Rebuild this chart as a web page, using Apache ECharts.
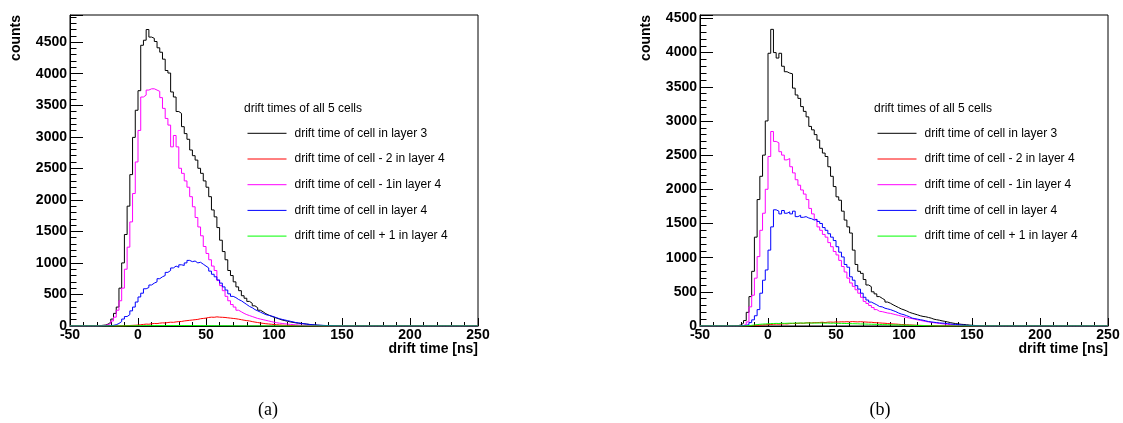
<!DOCTYPE html>
<html>
<head>
<meta charset="utf-8">
<script src="https://cdn.jsdelivr.net/npm/echarts@6/dist/echarts.min.js"></script>
<style>
  html, body { margin: 0; padding: 0; background: #ffffff; }
  #chart { width: 1123px; height: 423px; }
</style>
</head>
<body>
<div id="chart"></div>
<script>
// Drift-time histograms, 2 ns bins on [-50, 250] ns.
// Each list gives the counts per bin, starting at the lower bin edge noted in *_START.
const BIN_WIDTH = 2;
const X_MIN = -50;
const X_MAX = 250;
const X_TICKS = [-50, 0, 50, 100, 150, 200, 250];

const seriesNames = [
  'drift time of cell in layer 3',
  'drift time of cell - 2 in layer 4',
  'drift time of cell - 1in layer 4',
  'drift time of cell in layer 4',
  'drift time of cell + 1 in layer 4'
];
const seriesColors = ['#000000', '#ff0000', '#ff00ff', '#0000ff', '#00ff00'];
const legendHeader = 'drift times of all 5 cells';

// ---- panel (a) ----
const a_layer3_START = -32;
const a_layer3 = [0,5,10,15,30,60,110,200,300,600,1000,1450,1900,2400,2990,3420,
  3730,4450,4530,4700,4580,4560,4510,4410,4340,4230,4050,4010,3710,3630,3400,3370,
  3160,3050,2960,2790,2700,2630,2500,2420,2300,2200,2050,1840,1730,1560,1360,1180,
  1050,880,800,700,620,560,480,440,390,360,320,290,250,225,195,175,155,140,125,110,
  95,85,75,65,58,50,45,40,35,30,25,20,16,12,10,8,6,5,4,3,2,1];

const a_cellM2_START = -12;
const a_cellM2 = [2,5,8,10,12,15,20,25,30,28,35,40,38,45,50,48,55,60,58,65,
  70,72,80,85,90,95,100,105,115,120,125,135,140,138,145,140,138,135,130,125,
  120,115,108,100,92,85,80,70,62,55,48,42,36,32,28,24,20,17,14,12,10,8,6,5,4,3,2];

const a_cellM1_START = -32;
const a_cellM1 = [0,3,5,10,20,40,80,140,250,400,600,900,1250,1650,2100,2600,
  3100,3630,3660,3740,3760,3760,3740,3720,3620,3450,3290,3185,2840,3020,2840,2500,
  2420,2300,2200,2050,1890,1720,1570,1430,1260,1150,1050,950,880,720,640,560,
  470,400,340,300,250,225,200,180,165,150,135,120,110,100,90,80,70,60,52,45,
  40,35,30,26,22,19,16,13,11,9,7,5,4,3,2,1];

const a_cell0_START = -24;
const a_cell0 = [0,5,10,20,40,70,110,150,180,240,300,380,460,520,590,610,650,680,
  700,750,780,800,850,880,920,950,930,970,960,1000,1040,1020,1030,1000,1010,980,
  950,920,870,820,780,730,680,620,570,510,470,450,420,400,370,340,310,290,260,240,
  220,200,180,170,160,145,130,115,105,95,85,75,65,55,48,42,36,30,25,20,18,15,12,
  10,8,6,5,4,3,2];

const a_cellP1_START = -14;
const a_cellP1 = [1,1,2,2,3,3,4,4,5,5,5,6,6,6,7,7,7,8,8,8,8,8,8,8,7,7,7,7,6,6,
  6,5,5,5,4,4,4,3,3,3,2,2,2,2,1,1,1,1,1,1,1,1,1];

// ---- panel (b) ----
const b_layer3_START = -26;
const b_layer3 = [0,5,15,40,80,200,430,800,1300,1850,2190,2500,3000,3990,4340,
  4000,3920,3990,3800,3720,3700,3690,3480,3380,3330,3210,3140,3060,2920,2870,2800,
  2720,2600,2530,2480,2330,2190,2040,1890,1840,1680,1550,1450,1360,1110,900,800,
  770,680,600,575,500,470,430,405,380,350,333,310,290,270,250,236,220,200,187,175,
  163,150,140,135,125,115,100,92,85,75,68,60,50,42,35,30,25,22,18,14,10,8,5,3,2];

const b_cellM2_START = -16;
const b_cellM2 = [2,5,8,10,12,15,18,20,22,25,28,26,30,32,30,35,38,36,40,42,40,45,
  48,44,50,48,52,55,50,56,58,55,60,58,62,60,63,60,65,62,60,63,60,58,55,55,50,48,
  45,42,40,36,32,30,28,25,22,20,18,16,14,12,10,9,8,6,5,4,3,2];

const b_cellM1_START = -24;
const b_cellM1 = [0,3,8,20,60,280,450,700,1015,1400,1650,2000,2480,2845,2700,2680,
  2550,2500,2430,2450,2330,2240,2140,2060,1990,1930,1850,1720,1640,1560,1450,1400,
  1340,1300,1220,1160,1090,1040,960,870,790,700,630,580,530,480,420,360,330,300,
  270,240,215,210,200,190,185,175,165,155,145,135,125,115,108,98,90,82,74,66,60,
  54,48,43,38,33,28,24,20,16,13,10,8,6,4,3,2];

const b_cell0_START = -24;
const b_cell0 = [0,3,6,10,20,50,90,150,240,480,670,820,1110,1450,1700,1680,1640,
  1690,1650,1670,1640,1680,1600,1620,1590,1600,1580,1570,1550,1560,1530,1500,1440,
  1400,1350,1300,1250,1160,1080,1010,900,860,720,670,590,540,480,420,380,350,330,
  310,285,280,260,250,240,225,210,190,175,165,150,135,115,108,100,92,85,75,65,60,
  55,50,45,42,40,35,30,25,22,20,15,12,10,8,6,5,3,2];

const b_cellP1_START = -18;
const b_cellP1 = [2,5,10,15,20,25,28,30,32,35,36,38,37,40,38,40,42,40,43,42,44,42,
  45,43,44,42,45,43,44,42,43,40,42,40,38,39,37,36,35,34,33,32,30,30,28,27,26,25,
  24,22,21,20,19,18,17,16,15,14,13,12,11,10,9,8,7,6,5,4,3,2];

// Y-axis ranges of the two panels
const Y_MAX_A = 4930;
const Y_MAX_B = 4550;
const Y_INTERVAL = 500;

// Build step-histogram points [lowerEdge, count]; bins outside a list hold zero counts.
function histogram(start, counts) {
  const pts = [];
  for (let e = X_MIN; e < X_MAX; e += BIN_WIDTH) {
    const k = Math.round((e - start) / BIN_WIDTH);
    pts.push([e, (k >= 0 && k < counts.length) ? counts[k] : 0]);
  }
  pts.push([X_MAX, pts[pts.length - 1][1]]);
  return pts;
}

const panelA = [
  histogram(a_layer3_START, a_layer3),
  histogram(a_cellM2_START, a_cellM2),
  histogram(a_cellM1_START, a_cellM1),
  histogram(a_cell0_START, a_cell0),
  histogram(a_cellP1_START, a_cellP1)
];
const panelB = [
  histogram(b_layer3_START, b_layer3),
  histogram(b_cellM2_START, b_cellM2),
  histogram(b_cellM1_START, b_cellM1),
  histogram(b_cell0_START, b_cell0),
  histogram(b_cellP1_START, b_cellP1)
];

const SANS = 'Liberation Sans, Arial, Helvetica, sans-serif';
const SERIF = 'Liberation Serif, Times New Roman, serif';

function xAxisFor(gridIndex) {
  return {
    type: 'value', gridIndex: gridIndex,
    min: X_TICKS[0], max: X_TICKS[X_TICKS.length - 1], interval: X_TICKS[1] - X_TICKS[0],
    axisLine: { show: true, onZero: false, lineStyle: { color: '#000', width: 1 } },
    axisTick: { show: true, inside: true, length: 8, lineStyle: { color: '#000' } },
    minorTick: { show: true, splitNumber: 5, length: 4, lineStyle: { color: '#000' } },
    splitLine: { show: false },
    axisLabel: { color: '#000', fontFamily: SANS, fontWeight: 'bold', fontSize: 14, margin: 2,
      showMinLabel: true, showMaxLabel: true }
  };
}
function yAxisFor(gridIndex, max) {
  return {
    type: 'value', gridIndex: gridIndex, min: 0, max: max, interval: Y_INTERVAL,
    axisLine: { show: true, onZero: false, lineStyle: { color: '#000', width: 1 } },
    axisTick: { show: true, inside: true, length: 13, lineStyle: { color: '#000' } },
    minorTick: { show: true, splitNumber: 5, length: 6.5, lineStyle: { color: '#000' } },
    splitLine: { show: false },
    axisLabel: { color: '#000', fontFamily: SANS, fontWeight: 'bold', fontSize: 14, margin: 3,
      formatter: v => (v % Y_INTERVAL === 0 ? String(v) : '') }
  };
}

function seriesFor(panel, axisIndex) {
  return panel.map((pts, i) => ({
    type: 'line', name: seriesNames[i], data: pts,
    xAxisIndex: axisIndex, yAxisIndex: axisIndex,
    step: 'end', symbol: 'none', showSymbol: false, clip: true,
    color: seriesColors[i],
    lineStyle: { color: seriesColors[i], width: 1 },
    emphasis: { disabled: true }
  }));
}

// Legend entries show only the line sample (the marker is made fully transparent).
function legendFor(left) {
  return {
    left: left, top: 127.3, orient: 'vertical', padding: 0,
    itemWidth: 39, itemHeight: 14, itemGap: 13.7,
    data: seriesNames,
    itemStyle: { opacity: 0 },
    lineStyle: { width: 1 },
    textStyle: { color: '#000', fontFamily: SANS, fontSize: 12, padding: [0, 0, 0, 3] }
  };
}

function headerFor(left) {
  return { text: legendHeader, left: left, top: 102.5, padding: 0,
    textStyle: { color: '#000', fontFamily: SANS, fontSize: 12, fontWeight: 'normal' } };
}

function textEl(x, y, text, font, align, vAlign, rotation) {
  return { type: 'text', x: x, y: y, rotation: rotation || 0, silent: true,
    style: { text: text, font: font, fill: '#000', align: align, verticalAlign: vAlign } };
}

const chart = echarts.init(document.getElementById('chart'), null, { renderer: 'canvas' });
chart.setOption({
  animation: false,
  backgroundColor: '#ffffff',
  title: [headerFor(244), headerFor(874)],
  legend: [legendFor(247), legendFor(877)],
  grid: [
    { left: 70, top: 15, width: 408, height: 311, show: true, borderColor: '#000', borderWidth: 1, backgroundColor: 'transparent' },
    { left: 700, top: 15, width: 408, height: 311, show: true, borderColor: '#000', borderWidth: 1, backgroundColor: 'transparent' }
  ],
  xAxis: [xAxisFor(0), xAxisFor(1)],
  yAxis: [yAxisFor(0, Y_MAX_A), yAxisFor(1, Y_MAX_B)],
  series: seriesFor(panelA, 0).concat(seriesFor(panelB, 1)),
  graphic: [
    textEl(16, 15, 'counts', 'bold 14px ' + SANS, 'right', 'middle', Math.PI / 2),
    textEl(646, 15, 'counts', 'bold 14px ' + SANS, 'right', 'middle', Math.PI / 2),
    textEl(478, 349, 'drift time [ns]', 'bold 14px ' + SANS, 'right', 'middle'),
    textEl(1108, 349, 'drift time [ns]', 'bold 14px ' + SANS, 'right', 'middle'),
    textEl(268, 410, '(a)', '18px ' + SERIF, 'center', 'middle'),
    textEl(880, 410, '(b)', '18px ' + SERIF, 'center', 'middle')
  ]
});
</script>
</body>
</html>
